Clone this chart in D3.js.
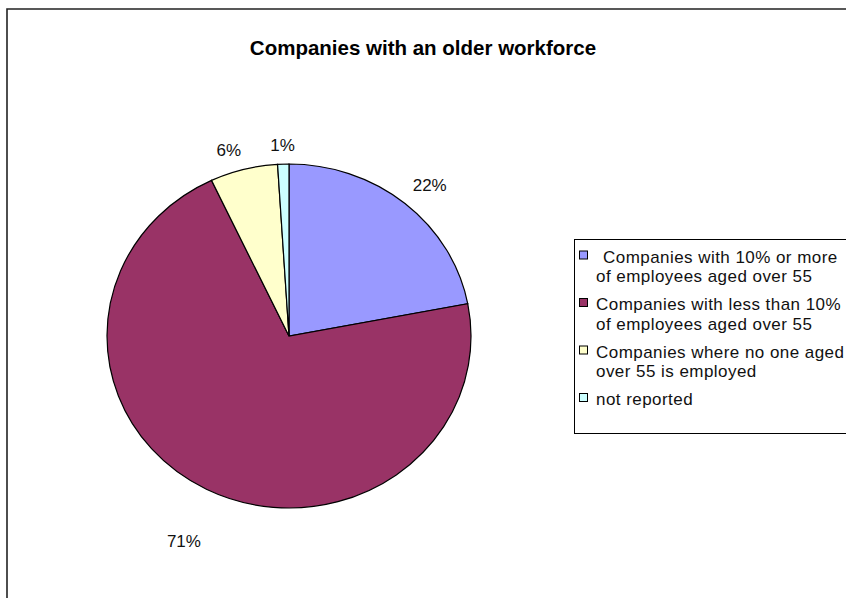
<!DOCTYPE html>
<html>
<head>
<meta charset="utf-8">
<script src="https://cdn.jsdelivr.net/npm/d3@7"></script>
<style>
  html, body { margin: 0; padding: 0; background: #fff; }
  svg { display: block; }
  text { font-family: "Liberation Sans", Arial, sans-serif; }
</style>
</head>
<body>
<script>
// Chart data
const title = "Companies with an older workforce";
const categories = [
  ["Companies with 10% or more", "of employees aged over 55"],
  ["Companies with less than 10%", "of employees aged over 55"],
  ["Companies where no one aged", "over 55 is employed"],
  ["not reported"]
];
const values = [22, 71, 6, 1];
const colors = ["#9999FF", "#993366", "#FFFFCC", "#CCFFFF"];

// Layout
const W = 846, H = 598;
const cx = 289, cy = 336, rx = 182, ry = 172;
const labelRadius = [1.17, 1.32, 1.13, 1.11];
const labelNudge = [[5, 4], [4, 3], [-9, 2], [0, 0]];

const svg = d3.select("body").append("svg")
  .attr("width", W).attr("height", H);

// chart area frame (continues past the right and bottom edges)
svg.append("path")
  .attr("d", `M7,${H + 2} V9 H${W + 2}`)
  .attr("fill", "none").attr("stroke", "#222").attr("stroke-width", 1.6);

svg.append("text")
  .attr("x", 423).attr("y", 55)
  .attr("text-anchor", "middle")
  .attr("font-weight", "bold")
  .attr("font-size", 20.5)
  .text(title);

const pie = d3.pie().sort(null).value(d => d);
const arcs = pie(values);
const arc = d3.arc().innerRadius(0).outerRadius(rx);

const g = svg.append("g")
  .attr("transform", `translate(${cx},${cy}) scale(1,${ry / rx})`);

g.selectAll("path.slice")
  .data(arcs)
  .join("path")
  .attr("class", "slice")
  .attr("d", arc)
  .attr("fill", (d, i) => colors[i])
  .attr("stroke", "#000")
  .attr("stroke-width", 1.2)
  .attr("vector-effect", "non-scaling-stroke");

// percentage labels outside each slice
const total = d3.sum(values);
const mid = d => (d.startAngle + d.endAngle) / 2;
svg.selectAll("text.pct")
  .data(arcs)
  .join("text")
  .attr("class", "pct")
  .attr("x", (d, i) => cx + Math.sin(mid(d)) * rx * labelRadius[i] + labelNudge[i][0])
  .attr("y", (d, i) => cy - Math.cos(mid(d)) * ry * labelRadius[i] + 6 + labelNudge[i][1])
  .attr("text-anchor", "middle")
  .attr("font-size", 17)
  .attr("fill", "#111")
  .text(d => Math.round(d.value / total * 100) + "%");

// legend
const lg = svg.append("g");
lg.append("rect")
  .attr("x", 574.5).attr("y", 239.5)
  .attr("width", 300).attr("height", 194)
  .attr("fill", "#fff").attr("stroke", "#000").attr("stroke-width", 1);

const lineH = 19.5, itemGap = 8.5;
let y = 262.5;
categories.forEach((lines, i) => {
  lg.append("rect")
    .attr("x", 579.5).attr("y", y - 11.5)
    .attr("width", 8).attr("height", 8)
    .attr("fill", colors[i]).attr("stroke", "#000").attr("stroke-width", 1);
  const t = lg.append("text")
    .attr("font-size", 17)
    .attr("letter-spacing", 0.45)
    .attr("fill", "#111");
  lines.forEach((ln, j) => {
    t.append("tspan")
      .attr("x", (i === 0 && j === 0) ? 603 : 596)
      .attr("y", y + j * lineH)
      .text(ln);
  });
  y += lines.length * lineH + itemGap;
});
</script>
</body>
</html>
